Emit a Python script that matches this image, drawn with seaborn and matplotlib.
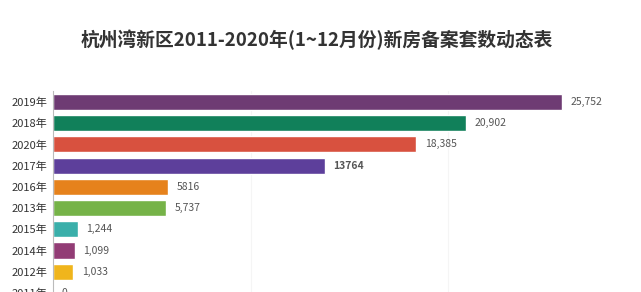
import pandas as pd
import matplotlib.pyplot as plt
import seaborn as sns

years = ['2019年', '2018年', '2020年', '2017年', '2016年', '2013年',
         '2015年', '2014年', '2012年', '2011年']
counts = [25752, 20902, 18385, 13764, 5816, 5737, 1244, 1099, 1033, 0]
count_labels = ['25,752', '20,902', '18,385', '13764', '5816', '5,737',
                '1,244', '1,099', '1,033', '0']
bar_colors = ['#6E3B73', '#11805A', '#D8513F', '#5D3F9B', '#E6821C',
              '#76B348', '#3AAFAA', '#923C75', '#F0B51C', '#5B8FC9']

df = pd.DataFrame({'year': years, 'count': counts})

sns.set_style('white')
plt.rcParams['font.family'] = ['Noto Sans CJK SC', 'DejaVu Sans']

fig = plt.figure(figsize=(6.41, 2.92), dpi=100)
ax = fig.add_axes([0.0827, -0.0397, 0.894, 0.727])

sns.barplot(data=df, x='count', y='year', hue='year', palette=bar_colors,
            saturation=1, legend=False, width=0.76, ax=ax)

# per-bar value labels, kept as shown in the source (mixed formatting)
for container, lab, val in zip(ax.containers, count_labels, counts):
    ax.bar_label(container, labels=[lab], padding=6, fontsize=7.5,
                 color='#555555', fontweight='bold' if val == 13764 else 'normal')

ax.set_xlim(0, 29000)
ax.set_ylim(9.5, -0.5)
ax.set_xlabel('')
ax.set_ylabel('')
ax.set_xticks([10000, 20000])
ax.set_xticklabels([])
ax.tick_params(axis='x', length=0)
ax.tick_params(axis='y', length=0, pad=4, labelsize=8, labelcolor='#333333')
ax.grid(axis='x', color='#f5f5f5', linewidth=0.8)
ax.set_axisbelow(True)
for side in ['top', 'right', 'bottom']:
    ax.spines[side].set_visible(False)
ax.spines['left'].set_color('#bbbbbb')
ax.spines['left'].set_linewidth(0.8)

fig.text(0.495, 0.863, '杭州湾新区2011-2020年(1~12月份)新房备案套数动态表',
         ha='center', va='center', fontsize=13.5, fontweight='bold', color='#333333')

fig.savefig('out.png', dpi=100, facecolor='white')
